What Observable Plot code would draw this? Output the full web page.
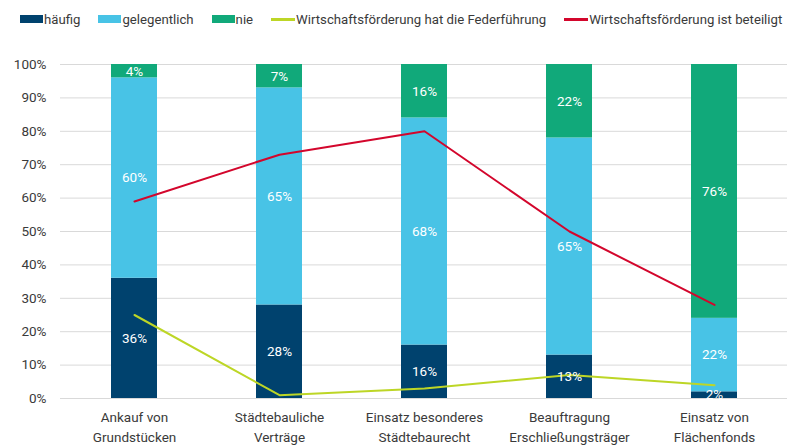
<!DOCTYPE html>
<html>
<head>
<meta charset="utf-8">
<script src="https://cdn.jsdelivr.net/npm/d3@7"></script>
<script src="https://cdn.jsdelivr.net/npm/@observablehq/plot@0.6"></script>
<style>
  html, body { margin: 0; padding: 0; background: #fff; }
  body { width: 789px; height: 445px; overflow: hidden; font-family: Roboto, sans-serif; color: #3a3a3a; }
  #legend { height: 36px; display: flex; align-items: center; padding-left: 20px; font-size: 13.2px; box-sizing: border-box; padding-top: 2px; white-space: nowrap; }
  .item { display: flex; align-items: center; margin-right: 18px; flex: none; }
  .item:last-child { margin-right: 0; }
  .sw { width: 23px; height: 8px; margin-right: 1px; flex: none; }
  .ln { width: 24px; height: 3px; margin-right: 1px; flex: none; }
</style>
</head>
<body>
<div id="legend"></div>
<div id="chart"></div>
<script>
const categories = ["Ankauf von\nGrundstücken", "Städtebauliche\nVerträge", "Einsatz besonderes\nStädtebaurecht", "Beauftragung\nErschließungsträger", "Einsatz von\nFlächenfonds"];
const barSeries = ["häufig", "gelegentlich", "nie"];
const barColors = ["#00426e", "#48c3e6", "#11a97a"];
const haeufig = [36, 28, 16, 13, 2];
const gelegentlich = [60, 65, 68, 65, 22];
const nie = [4, 7, 16, 22, 76];
const lineSeries = ["Wirtschaftsförderung hat die Federführung", "Wirtschaftsförderung ist beteiligt"];
const lineColors = ["#bdd626", "#d3062c"];
const federfuehrung = [25, 1, 3, 7, 4];
const beteiligt = [59, 73, 80, 50, 28];
const yTicks = [0, 10, 20, 30, 40, 50, 60, 70, 80, 90, 100];

const barValues = [haeufig, gelegentlich, nie];
const rows = [];
barSeries.forEach((s, i) => categories.forEach((c, j) => rows.push({cat: c, series: s, value: barValues[i][j]})));
const lineValues = [federfuehrung, beteiligt];
const lineRows = lineSeries.map((s, i) => categories.map((c, j) => ({cat: c, series: s, value: lineValues[i][j]})));

// legend
const legend = document.getElementById("legend");
barSeries.forEach((s, i) => {
  const d = document.createElement("div"); d.className = "item";
  d.innerHTML = `<span class="sw" style="background:${barColors[i]}"></span><span>${s}</span>`;
  legend.appendChild(d);
});
lineSeries.forEach((s, i) => {
  const d = document.createElement("div"); d.className = "item";
  d.innerHTML = `<span class="ln" style="background:${lineColors[i]}"></span><span>${s}</span>`;
  legend.appendChild(d);
});

const chart = Plot.plot({
  width: 789,
  height: 409,
  marginLeft: 60,
  marginRight: 2,
  marginTop: 28,
  marginBottom: 47,
  style: {fontFamily: "Roboto, sans-serif", fontSize: "13.5px", color: "#3a3a3a", background: "#fff"},
  x: {domain: categories, paddingInner: 0.684, paddingOuter: 0.342, label: null},
  y: {domain: [0, 100], label: null},
  color: {domain: barSeries, range: barColors},
  marks: [
    Plot.ruleY(yTicks, {stroke: "#d9d9d9", strokeWidth: 1}),
    Plot.axisY({ticks: yTicks, tickFormat: d => d + "%", tickSize: 0, tickPadding: 14, label: null}),
    Plot.axisX({tickSize: 0, tickPadding: 9, lineHeight: 1.5, label: null}),
    Plot.barY(rows, {x: "cat", y: "value", fill: "series", order: barSeries}),
    Plot.line(lineRows[0], {x: "cat", y: "value", stroke: lineColors[0], strokeWidth: 2}),
    Plot.line(lineRows[1], {x: "cat", y: "value", stroke: lineColors[1], strokeWidth: 2}),
    Plot.text(rows, Plot.stackY({x: "cat", y: "value", z: "series", order: barSeries, text: d => d.value + "%", fill: "white", fontSize: 13.5}))
  ]
});
document.getElementById("chart").appendChild(chart);
</script>
</body>
</html>
